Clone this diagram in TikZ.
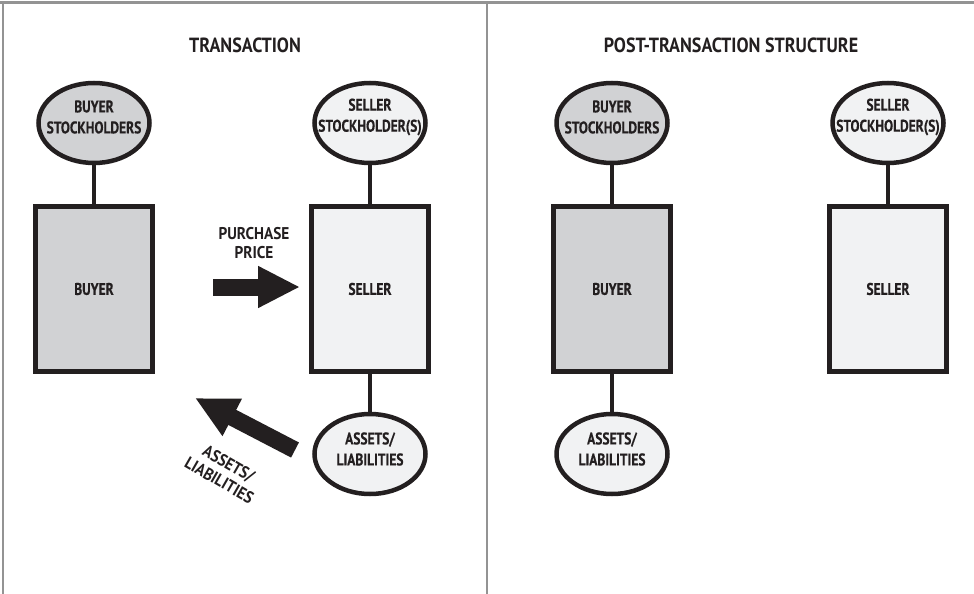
\documentclass[tikz,border=0pt]{standalone}
\usepackage{fontspec}
\setmainfont{PT Sans}[FakeStretch=0.88, BoldFeatures={FakeStretch=0.88}]
\newfontfamily\bodyfont{PT Sans}[FakeStretch=0.8, BoldFeatures={FakeStretch=0.8, FakeBold=0.5}]
\newfontfamily\flowfont{PT Sans}[FakeStretch=0.9, BoldFeatures={FakeStretch=0.9}]
\usetikzlibrary{shapes.geometric,arrows.meta}
\definecolor{ink}{HTML}{231F20}
\definecolor{darkfill}{HTML}{D1D2D4}
\definecolor{lightfill}{HTML}{F1F2F3}
\definecolor{framegray}{HTML}{939393}
\tikzset{
  x=1pt, y=-1pt,
  lbl/.style={font=\bodyfont\fontsize{16.8}{21}\selectfont\bfseries, text=ink, align=center, inner sep=0pt},
  titlelbl/.style={font=\fontsize{20.5}{24}\selectfont\bfseries, text=ink},
  smalllbl/.style={font=\flowfont\fontsize{17}{19}\selectfont\bfseries, text=ink, align=center},
  holder/.style={ellipse, draw=ink, line width=4.5pt, minimum width=111pt, minimum height=80pt, inner sep=0pt},
  entity/.style={rectangle, draw=ink, line width=5pt, minimum width=117pt, minimum height=165pt, inner sep=0pt, lbl},
  dark/.style={fill=darkfill},
  light/.style={fill=lightfill},
  link/.style={draw=ink, line width=4pt},
  bigarrow/.style={draw=ink, line width=17pt, -{Triangle[length=42pt,width=39pt]}},
  frameline/.style={draw=framegray, line width=2.5pt},
}
\begin{document}
\begin{tikzpicture}
\useasboundingbox (0,0) rectangle (974,594);

% panel frame
\draw[frameline] (0,2.5) -- (974,2.5);
\draw[frameline] (3,2.5) -- (3,594);
\draw[frameline] (487,2.5) -- (487,594);

% panel titles
\node[titlelbl] (title1) at (245,45) {TRANSACTION};
\node[titlelbl] (title2) at (731,45) {POST-TRANSACTION STRUCTURE};

% transaction panel
\node[holder, dark]  (bs1) at (94,123) {};
\node[entity, dark]  (buyer1) at (94,289) {BUYER};
\node[holder, light] (ss1) at (370,123) {};
\node[entity, light] (seller1) at (370,289) {SELLER};
\node[holder, light] (al1) at (370,454) {};
\node[lbl] (bs1t) at ([yshift=6pt]bs1.center) {BUYER\\STOCKHOLDERS};
\node[lbl] (ss1t) at ([yshift=6pt]ss1.center) {SELLER\\STOCKHOLDER(S)};
\node[lbl] (al1t) at ([yshift=5pt]al1.center) {ASSETS/\\LIABILITIES};
\draw[link] (bs1) -- (buyer1);
\draw[link] (ss1) -- (seller1);
\draw[link] (seller1) -- (al1);

% purchase price flow
\coordinate (pp0) at (213,287);
\coordinate (pp1) at (300,287);
\draw[bigarrow] (pp0) -- (pp1);
\node[smalllbl] (pplbl) at (254,243) {PURCHASE\\PRICE};

% assets and liabilities flow
\coordinate (al0) at (295,450);
\coordinate (alt) at (195,398);
\draw[bigarrow] (al0) -- (alt);
\node[smalllbl, rotate=-30] (allbl) at (224,472) {ASSETS/\\LIABILITIES};

% post-transaction panel
\node[holder, dark]  (bs2) at (612,123) {};
\node[entity, dark]  (buyer2) at (612,289) {BUYER};
\node[holder, light] (al2) at (612,454) {};
\node[holder, light] (ss2) at (888,123) {};
\node[entity, light] (seller2) at (888,289) {SELLER};
\node[lbl] (bs2t) at ([yshift=6pt]bs2.center) {BUYER\\STOCKHOLDERS};
\node[lbl] (al2t) at ([yshift=5pt]al2.center) {ASSETS/\\LIABILITIES};
\node[lbl] (ss2t) at ([yshift=6pt]ss2.center) {SELLER\\STOCKHOLDER(S)};
\draw[link] (bs2) -- (buyer2);
\draw[link] (buyer2) -- (al2);
\draw[link] (ss2) -- (seller2);
\end{tikzpicture}
\end{document}
